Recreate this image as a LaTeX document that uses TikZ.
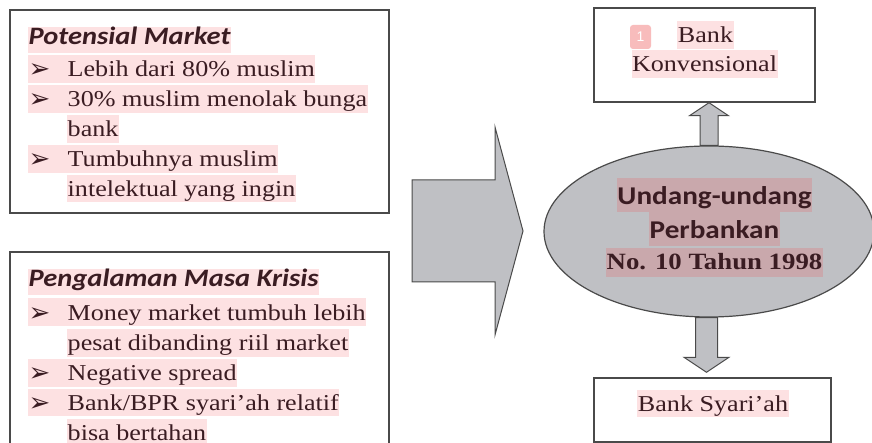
\documentclass[tikz,border=0pt]{standalone}
\usepackage{fontspec}
\setmainfont{Liberation Serif}[FakeStretch=1.15]
\newfontfamily\hdrfont{Carlito}[FakeStretch=1.14]
\newfontfamily\dingfont{DejaVu Sans}
\newfontfamily\markfont{Liberation Sans}
\usetikzlibrary{shapes.geometric,calc}
\definecolor{txt}{HTML}{3A1C22}
\definecolor{hl}{HTML}{FDE1E2}
\definecolor{hlg}{HTML}{C9A8AC}
\definecolor{gfill}{HTML}{BFC0C4}
\definecolor{edge}{HTML}{4A4A4A}
\definecolor{markc}{HTML}{F8BCBC}
\newcommand\bul{\makebox[39pt][l]{\hspace{0pt}\raisebox{-1pt}{\dingfont\fontsize{26}{26}\selectfont ➢}}}
\tikzset{
  frame/.style={draw=edge, line width=1.4pt, fill=white, inner sep=0pt},
  textline/.style={fill=hl, text=txt, inner sep=0pt, inner xsep=0.5pt,
    text height=21.5pt, text depth=6pt, font=\fontsize{22.7}{28}\selectfont},
  headline/.style={fill=hl, text=txt, inner sep=0pt, inner xsep=0.5pt,
    text height=18pt, text depth=8pt, font=\hdrfont\fontsize{25}{28}\selectfont\bfseries\itshape},
  ellhead/.style={fill=hlg, text=txt, inner sep=0pt, inner xsep=0.5pt,
    text height=27pt, text depth=7.5pt, font=\hdrfont\fontsize{25.6}{30}\selectfont\bfseries},
  ellnum/.style={fill=hlg, text=txt, inner sep=0pt, inner xsep=0.5pt,
    text height=22pt, text depth=7pt, font=\fontsize{23.3}{28}\selectfont\bfseries},
  blockarrow/.style={fill=gfill, draw=edge, line width=1pt, line join=miter},
  marker/.style={fill=markc, rounded corners=3pt, text=white, inner sep=0pt,
    minimum width=21pt, minimum height=24pt, font=\markfont\fontsize{14}{14}\selectfont}
}
\begin{document}
\begin{tikzpicture}[x=1pt,y=-1pt]
\useasboundingbox (0,0) rectangle (872,443);
% left boxes
\node[frame, minimum width=379pt, minimum height=203pt] (box1) at (199.5,111.5) {};
\node[frame, minimum width=379pt, minimum height=218pt] (box2) at (199.5,361) {};
% box 1 text
\node[headline, anchor=base west] (h1) at (28,45) {Potensial Market};
\node[textline, anchor=base west] (a1) at (28,77) {\bul Lebih dari 80\% muslim};
\node[textline, anchor=base west] (a2) at (28,107) {\bul 30\% muslim menolak bunga};
\node[textline, anchor=base west] (a3) at (67,137) {bank};
\node[textline, anchor=base west] (a4) at (28,167) {\bul Tumbuhnya muslim};
\node[textline, anchor=base west] (a5) at (67,196.5) {intelektual yang ingin};
% box 2 text
\node[headline, anchor=base west] (h2) at (28,287) {Pengalaman Masa Krisis};
\node[textline, anchor=base west] (b1) at (28,320) {\bul Money market tumbuh lebih};
\node[textline, anchor=base west] (b2) at (67,350.5) {pesat dibanding riil market};
\node[textline, anchor=base west] (b3) at (28,380.5) {\bul Negative spread};
\node[textline, anchor=base west] (b4) at (28,410) {\bul Bank/BPR syari’ah relatif};
\node[textline, anchor=base west] (b5) at (67,440) {bisa bertahan};
% big arrow
\draw[blockarrow] (412,180) -- (495,180) -- (495,127) -- (523,231) -- (495,335) -- (495,282) -- (412,282) -- cycle;
% right side
\node[frame, minimum width=221pt, minimum height=94pt] (topbox) at (704.5,55) {};
\node[frame, minimum width=237pt, minimum height=64pt] (botbox) at (712.5,410) {};
\node[ellipse, fill=gfill, draw=edge, line width=1.2pt, inner sep=0pt,
      minimum width=330pt, minimum height=171pt] (ell) at (709,231.5) {};
% up arrow
\draw[blockarrow] let \p1=(ell.north), \p2=(topbox.south) in
  (\x1-9pt,\y1) -- (\x1-9pt,\y2-13pt) -- (\x1-19.5pt,\y2-13pt) -- (\x1,\y2)
  -- (\x1+19.5pt,\y2-13pt) -- (\x1+9pt,\y2-13pt) -- (\x1+9pt,\y1) -- cycle;
% down arrow
\draw[blockarrow] let \p1=($(ell.south)+(-2.5,0)$), \p2=($(botbox.north)+(0,-5)$) in
  (\x1-11pt,\y1) -- (\x1-11pt,\y2+15pt) -- (\x1-22.5pt,\y2+15pt) -- (\x1,\y2)
  -- (\x1+22.5pt,\y2+15pt) -- (\x1+11pt,\y2+15pt) -- (\x1+11pt,\y1) -- cycle;
% texts right
\node[textline, anchor=base] (k1) at (705.5,43) {Bank};
\node[textline, anchor=base] (k2) at (704.5,72) {Konvensional};
\node[marker] (m1) at (640.5,37) {1};
\node[ellhead, anchor=base] (u1) at (714.5,205) {Undang-undang};
\node[ellhead, anchor=base] (u2) at (714.5,238.5) {Perbankan};
\node[ellnum, anchor=base] (u3) at (714.5,270) {No. 10 Tahun 1998};
\node[textline, anchor=base] (s1) at (713,411) {Bank Syari’ah};
\end{tikzpicture}
\end{document}
